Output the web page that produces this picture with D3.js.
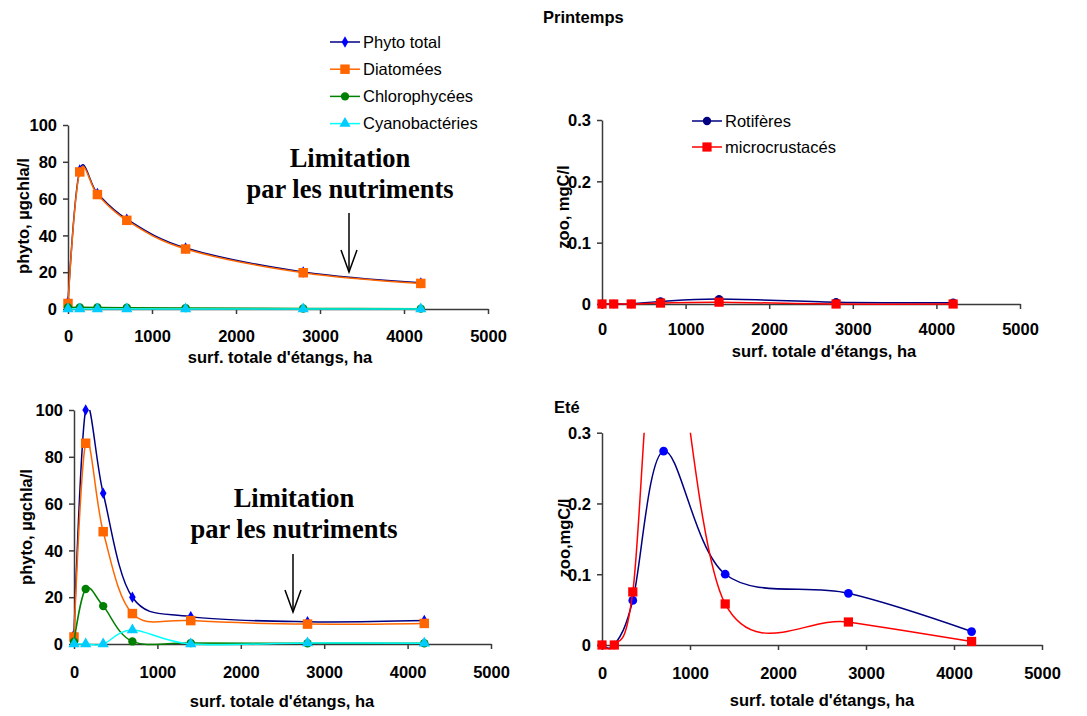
<!DOCTYPE html>
<html>
<head>
<meta charset="utf-8">
<script src="https://cdn.jsdelivr.net/npm/d3@7"></script>
<style>
  body { margin: 0; background: #fff; }
  svg text { font-family: "Liberation Sans", Arial, sans-serif; }
  .tick-label { font-size: 16.5px; font-weight: bold; fill: #000; }
  .titles { font-size: 16.5px; font-weight: bold; fill: #000; }
  .legend text { font-size: 16.5px; fill: #000; }
  .note { font-family: "Liberation Serif", "Times New Roman", serif !important; font-size: 26.5px; font-weight: bold; }
</style>
</head>
<body>
<svg id="chart" width="1087" height="716"></svg>
<script>
// pond surface (ha) -- same for every series
var surface = [0, 140, 350, 700, 1400, 2800, 4200];
var xTicks = [0, 1000, 2000, 3000, 4000, 5000];
var phytoTicks = [0, 20, 40, 60, 80, 100];
var zooTicks = [0, 0.1, 0.2, 0.3];

// printemps
var phytoTotalSpring = [3.8, 75.5, 62.8, 48.8, 33.2, 20.1, 14.2];
var diatomSpring = [3, 74.5, 62.2, 48.2, 32.6, 19.7, 13.9];
var chloroSpring = [0.8, 0.9, 0.8, 0.7, 0.5, 0.3, 0.2];
var cyanoSpring = [0, 0, 0, 0, 0, 0, 0];
var rotSpring = [0, 0, 0, 0.004, 0.008, 0.003, 0.002];
var microSpring = [0, 0, 0, 0.0015, 0.003, 0, 0];

// été
var phytoTotalSummer = [4, 100, 64.4, 20, 11.7, 9.5, 10];
var diatomSummer = [3, 85.8, 48, 13, 10, 8.5, 8.8];
var chloroSummer = [1, 23.5, 16.2, 1.1, 0.4, 0.3, 0.3];
var cyanoSummer = [0, 0, 0, 6, 0, 0.4, 0.3];
var rotSummer = [0, 0, 0.063, 0.274, 0.1, 0.073, 0.019];
var microSummer = [0, 0, 0.075, 0.52, 0.058, 0.0325, 0.005];

var phytoNames = ["Phyto total", "Diatomées", "Chlorophycées", "Cyanobactéries"];
var zooNames = ["Rotifères", "microcrustacés"];

var svg = d3.select("#chart");

// series styles
var styles = {
  total:  {line: "#000080", fill: "#0000ff", shape: d3.symbolDiamond, size: 38},
  diatom: {line: "#ff6600", fill: "#ff6600", shape: d3.symbolSquare, size: 90},
  chloro: {line: "#008000", fill: "#008000", shape: d3.symbolCircle, size: 55},
  cyano:  {line: "#00ffff", fill: "#00ccff", shape: d3.symbolTriangle, size: 55},
  rot:    {line: "#000080", fill: "#000080", shape: d3.symbolCircle, size: 55},
  rotB:   {line: "#000080", fill: "#0000ff", shape: d3.symbolCircle, size: 60},
  micro:  {line: "#ff0000", fill: "#ff0000", shape: d3.symbolSquare, size: 85}
};

class panel {

  constructor(id, xr, yr, ymax, yTicks, yFmt, ytitle, ytitlePos, xtitlePos, tickY) {
    this.id = id;
    this.x = d3.scaleLinear().domain([0, 5000]).range(xr);
    this.y = d3.scaleLinear().domain([0, ymax]).range(yr);
    this.g = svg.append("g");

    // clip to the plot area (curves may leave it at the top)
    svg.append("clipPath").attr("id", "clip" + id)
      .append("rect")
      .attr("x", xr[0] - 15).attr("y", yr[1])
      .attr("width", xr[1] - xr[0] + 30).attr("height", yr[0] - yr[1] + 15);

    this.setup(yTicks, yFmt, ytitle, ytitlePos, xtitlePos, tickY);
  }

  setup(yTicks, yFmt, ytitle, ytitlePos, xtitlePos, tickY) {
    var x = this.x, y = this.y;

    var xaxis = this.g.append("g")
      .attr("transform", "translate(0," + y(0) + ")")
      .call(d3.axisBottom(x).tickValues(xTicks).tickSize(5).tickSizeOuter(0).tickFormat(d3.format("d")));
    xaxis.selectAll("text").attr("class", "tick-label").attr("dy", null).attr("y", tickY);

    var yaxis = this.g.append("g")
      .attr("transform", "translate(" + x(0) + ",0)")
      .call(d3.axisLeft(y).tickValues(yTicks).tickSize(5).tickSizeOuter(0).tickFormat(yFmt));
    yaxis.selectAll("text").attr("class", "tick-label").attr("x", -11).attr("dy", "0.35em");

    this.g.selectAll(".domain, .tick line").attr("stroke", "#3a3a3a").attr("stroke-width", 1.5);

    this.g.append("text")
      .text("surf. totale d'étangs, ha")
      .attr("class", "titles")
      .attr("text-anchor", "middle")
      .attr("x", xtitlePos[0])
      .attr("y", xtitlePos[1]);

    this.g.append("text")
      .text(ytitle)
      .attr("class", "titles")
      .attr("text-anchor", "middle")
      .attr("dominant-baseline", "central")
      .attr("transform", "translate(" + ytitlePos[0] + "," + ytitlePos[1] + ")rotate(-90)");
  }

  series(values, st) {
    var x = this.x, y = this.y;
    var pts = values.map((v, i) => [surface[i], v]);

    var line = d3.line()
      .x((d) => { return x(d[0]); })
      .y((d) => { return y(d[1]); })
      .curve(d3.curveCardinal.tension(0));

    this.g.append("path")
      .datum(pts)
      .attr("clip-path", "url(#clip" + this.id + ")")
      .attr("fill", "none")
      .attr("stroke", st.line)
      .attr("stroke-width", 1.5)
      .attr("d", line);

    this.g.selectAll(null)
      .data(pts.filter((d) => d[1] <= y.domain()[1]))
      .enter().append("path")
      .attr("transform", (d) => "translate(" + x(d[0]) + "," + y(d[1]) + ")")
      .attr("d", d3.symbol().type(st.shape).size(st.size))
      .attr("fill", st.fill);
  }
}

function legend(x, y0, step, names, sts) {
  var lg = svg.append("g").attr("class", "legend");
  names.forEach((n, i) => {
    var yy = y0 + i * step;
    lg.append("line").attr("x1", x).attr("x2", x + 30).attr("y1", yy).attr("y2", yy)
      .attr("stroke", sts[i].line).attr("stroke-width", 1.5);
    lg.append("path").attr("transform", "translate(" + (x + 15) + "," + yy + ")")
      .attr("d", d3.symbol().type(sts[i].shape).size(sts[i].size)).attr("fill", sts[i].fill);
    lg.append("text").text(n).attr("x", x + 33).attr("y", yy).attr("dy", "0.35em");
  });
}

function note(cx, base, arrowTop, arrowTip) {
  var g = svg.append("g");
  g.append("text").attr("class", "note").attr("text-anchor", "middle")
    .attr("x", cx).attr("y", base).text("Limitation");
  g.append("text").attr("class", "note").attr("text-anchor", "middle")
    .attr("x", cx).attr("y", base + 31).text("par les nutriments");
  var ax = cx - 1;
  g.append("line").attr("x1", ax).attr("x2", ax).attr("y1", arrowTop).attr("y2", arrowTip)
    .attr("stroke", "#000").attr("stroke-width", 1.5);
  g.append("path")
    .attr("d", "M" + (ax - 8) + "," + (arrowTip - 22) + "L" + ax + "," + arrowTip + "L" + (ax + 8) + "," + (arrowTip - 22))
    .attr("fill", "none").attr("stroke", "#000").attr("stroke-width", 1.5);
}

var fmtPhyto = d3.format("d");
var fmtZoo = (d) => d === 0 ? "0" : d3.format(".1f")(d);

// titles
svg.append("text").attr("class", "titles").attr("x", 543).attr("y", 23).text("Printemps");
svg.append("text").attr("class", "titles").attr("x", 554).attr("y", 413).text("Eté");

// printemps, phyto
var tl = new panel("tl", [68, 488], [309, 125], 100, phytoTicks, fmtPhyto, "phyto, µgchla/l", [23, 216], [280, 363], 33);
tl.series(phytoTotalSpring, styles.total);
tl.series(diatomSpring, styles.diatom);
tl.series(chloroSpring, styles.chloro);
tl.series(cyanoSpring, styles.cyano);

// printemps, zoo
var tr = new panel("tr", [602, 1020], [304, 120], 0.3, zooTicks, fmtZoo, "zoo, mgC/l", [563, 207], [824, 357], 31);
tr.series(rotSpring, styles.rot);
tr.series(microSpring, styles.micro);

// été, phyto
var bl = new panel("bl", [74, 491], [644, 410], 100, phytoTicks, fmtPhyto, "phyto, µgchla/l", [26, 527], [282, 707], 34);
bl.series(phytoTotalSummer, styles.total);
bl.series(diatomSummer, styles.diatom);
bl.series(chloroSummer, styles.chloro);
bl.series(cyanoSummer, styles.cyano);

// été, zoo
var br = new panel("br", [602, 1042], [645, 432.7], 0.3, zooTicks, fmtZoo, "zoo,mgC/l", [564, 538], [822, 706], 34);
br.series(rotSummer, styles.rotB);
br.series(microSummer, styles.micro);

legend(330, 42, 27.2, phytoNames, [styles.total, styles.diatom, styles.chloro, styles.cyano]);
legend(692, 121, 26, zooNames, [styles.rot, styles.micro]);

note(350, 167, 213, 272);
note(294, 507, 554, 612);
</script>
</body>
</html>
